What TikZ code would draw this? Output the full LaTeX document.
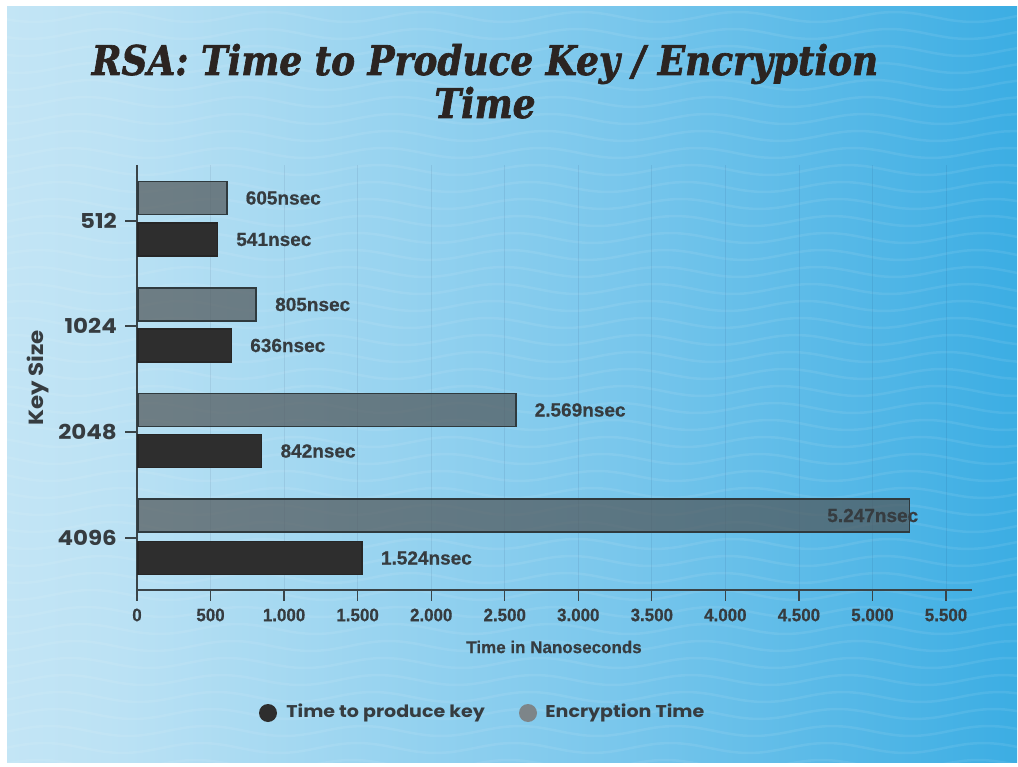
\documentclass[tikz,border=0pt]{standalone}
\usepackage{fontspec}
\setmainfont{Liberation Sans}
\newfontfamily\titlefont[FakeStretch=0.875,FakeBold=1.6]{DejaVu Serif}
\newfontfamily\widefont[FakeStretch=1.12]{Poppins}
\newfontfamily\condfont[FakeBold=0.6]{Liberation Sans}
\newfontfamily\tickfont[FakeStretch=0.94,FakeBold=0.6]{Liberation Sans}
\definecolor{bgA}{HTML}{E6F3FA}
\definecolor{bgB}{HTML}{BCE2F4}
\definecolor{bgC}{HTML}{7AC7EC}
\definecolor{bgD}{HTML}{2CA7E1}
\definecolor{bgE}{HTML}{169CD9}
\definecolor{ink}{HTML}{2B2421}
\definecolor{txt}{HTML}{363C40}
\definecolor{axisc}{HTML}{3A4448}
\definecolor{barG}{HTML}{4F5456}
\definecolor{barGb}{HTML}{2F3A3E}
\definecolor{barK}{HTML}{2E2E2E}
\definecolor{legG}{HTML}{7D8589}
\pgfdeclarehorizontalshading{bgshade}{100bp}{color(0bp)=(bgA); color(30bp)=(bgB); color(55bp)=(bgC); color(80bp)=(bgD); color(100bp)=(bgE)}
\tikzset{
  graybar/.style={draw=barGb, line width=1.6pt, fill=barG, fill opacity=0.7, minimum height=33pt, inner sep=0pt, anchor=west, rectangle},
  blackbar/.style={draw=black!85, line width=1.6pt, fill=barK, minimum height=33pt, inner sep=0pt, anchor=west, rectangle},
  val/.style={text=txt, font=\condfont\bfseries\fontsize{19}{21}\selectfont, inner sep=0pt},
  ticklab/.style={text=txt, font=\tickfont\bfseries\fontsize{18}{20}\selectfont, inner sep=0pt},
  ylab/.style={text=txt, font=\widefont\bfseries\fontsize{20.5}{22}\selectfont, inner sep=0pt, anchor=east},
  legtext/.style={text=txt, font=\widefont\bfseries\fontsize{17}{19}\selectfont, inner sep=0pt, anchor=west},
  axisline/.style={draw=axisc, line width=1.3pt},
  gridline/.style={draw=black!80!blue, opacity=0.07, line width=0.8pt},
}
\begin{document}
\begin{tikzpicture}[x=1pt, y=-1pt]
\useasboundingbox (0,0) rectangle (1018,767);
\fill[white] (0,0) rectangle (1018,767);
\shade[shading=bgshade] (7,7) rectangle (1017,762);
\begin{scope}
  \clip (7,7) rectangle (1017,762);
  \foreach \k in {0,...,46} {
    \draw[white, opacity=0.08, line width=2.5pt] plot[domain=0:1020, samples=60, smooth] (\x, {\k*17 + 5*sin(\x*2.3 + \k*12)});
  }
\end{scope}
% title
\node[text=ink, font=\titlefont\bfseries\itshape\fontsize{41}{48}\selectfont, anchor=base, inner sep=0pt] (title1) at (485,75) {RSA: Time to Produce Key / Encryption};
\node[text=ink, font=\titlefont\bfseries\itshape\fontsize{41}{48}\selectfont, anchor=base, inner sep=0pt] (title2) at (485,118) {Time};
% grid
\foreach \i in {1,...,11} {
  \coordinate (g\i) at ({137 + \i*500*0.14709}, 165);
  \draw[gridline] (g\i) -- ++(0,425);
}
% axes
\coordinate (ytop) at (137,165);
\coordinate (o) at (137,590);
\coordinate (xend) at (972,590);
\draw[axisline] (ytop) -- (o) -- (xend);
\foreach \v/\l [count=\i] in {0/0,500/500,1000/1.000,1500/1.500,2000/2.000,2500/2.500,3000/3.000,3500/3.500,4000/4.000,4500/4.500,5000/5.000,5500/5.500} {
  \coordinate (t\i) at ({137 + \v*0.14709}, 590);
  \draw[axisline] (t\i) -- ++(0,11);
  \node[ticklab] (tl\i) at ([yshift=-25pt]t\i) {\l};
}
\node[text=txt, font=\condfont\bfseries\fontsize{17}{19}\selectfont, inner sep=0pt] (xtitle) at (554,647) {Time in Nanoseconds};
% y ticks
\foreach \y/\l in {221/512, 326/1024, 432/2048, 538/4096} {
  \coordinate (yt\l) at (137,\y);
  \draw[axisline] (yt\l) -- ++(-12,0);
  \node[ylab] (yl\l) at (117,\y) {\l};
}
\node[text=txt, font=\widefont\bfseries\fontsize{20.5}{22}\selectfont, rotate=90, inner sep=0pt] (ytitle) at (38,378) {Key Size};
% bars
\node[graybar, minimum width=89.0pt] (e512) at (137,198) {};
\node[blackbar, minimum width=79.6pt] (k512) at (137,239.5) {};
\node[graybar, minimum width=118.4pt] (e1024) at (137,304.5) {};
\node[blackbar, minimum width=93.5pt] (k1024) at (137,345.5) {};
\node[graybar, minimum width=377.9pt] (e2048) at (137,410) {};
\node[blackbar, minimum width=123.8pt] (k2048) at (137,451) {};
\node[graybar, minimum width=771.8pt] (e4096) at (137,515.5) {};
\node[blackbar, minimum width=224.2pt] (k4096) at (137,558) {};
% values
\node[val, anchor=west] (ve512) at ([xshift=18pt]e512.east) {605nsec};
\node[val, anchor=west] (vk512) at ([xshift=18pt]k512.east) {541nsec};
\node[val, anchor=west] (ve1024) at ([xshift=18pt]e1024.east) {805nsec};
\node[val, anchor=west] (vk1024) at ([xshift=18pt]k1024.east) {636nsec};
\node[val, anchor=west] (ve2048) at ([xshift=18pt]e2048.east) {2.569nsec};
\node[val, anchor=west] (vk2048) at ([xshift=18pt]k2048.east) {842nsec};
\node[val, anchor=east] (ve4096) at ([xshift=8pt]e4096.east) {5.247nsec};
\node[val, anchor=west] (vk4096) at ([xshift=18pt]k4096.east) {1.524nsec};
% legend
\node[circle, fill=barK, minimum size=18pt, inner sep=0pt] (lk) at (268,713) {};
\node[legtext] (lkt) at ([xshift=9pt]lk.east) {Time to produce key};
\node[circle, fill=legG, minimum size=18pt, inner sep=0pt] (le) at (528,713) {};
\node[legtext] (let) at ([xshift=8pt]le.east) {Encryption Time};
\end{tikzpicture}
\end{document}
